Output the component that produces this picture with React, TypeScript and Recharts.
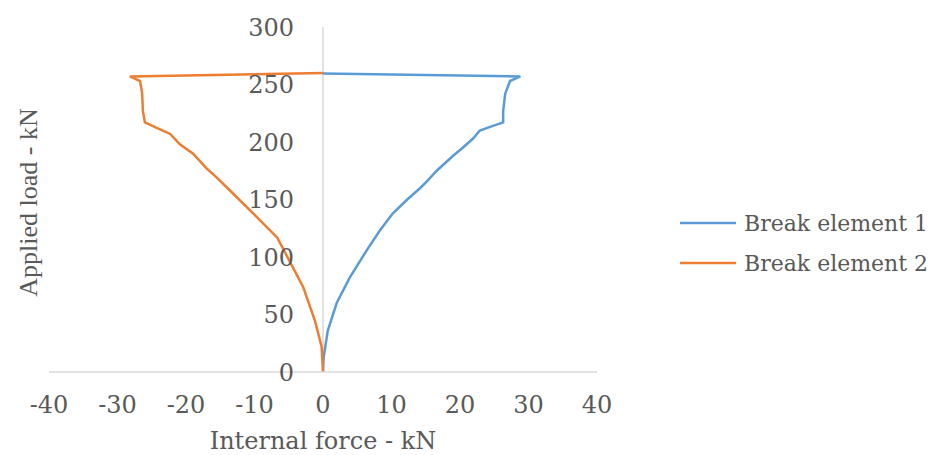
import { LineChart, Line, XAxis, YAxis, ReferenceLine, Legend, Label } from "recharts";

// Break element 1 (blue): internal force vs applied load, in drawing order
const FORCE_1 = [0, 0.1, 0.7, 2.0, 3.9, 6.4, 8.3, 10.2, 12.3, 14.2, 15.2, 16.6, 19.0, 20.4, 21.9, 22.9, 24.8, 26.3, 26.3, 26.6, 27.3, 28.8, 0];
const LOAD_1 = [0, 13, 36, 60, 82, 106, 123, 138, 150, 160, 166, 175, 188, 195, 203, 210, 214, 217, 227, 242, 253, 257, 259.5];

// Break element 2 (orange)
const FORCE_2 = [0, -0.2, -1.2, -2.9, -4.4, -6.7, -10.2, -13.1, -15.5, -17.0, -19.0, -20.9, -22.3, -24.2, -26.0, -26.3, -26.4, -26.7, -28.2, 0];
const LOAD_2 = [0, 22, 45, 74, 91, 117, 138, 155, 169, 177, 190, 198, 207, 212, 217, 227, 242, 253, 257, 260];

const X_TICKS = [-40, -30, -20, -10, 0, 10, 20, 30, 40];
const Y_TICKS = [0, 50, 100, 150, 200, 250, 300];

const SERIES = [
  { name: "Break element 1", color: "#5B9BD5", force: FORCE_1, load: LOAD_1 },
  { name: "Break element 2", color: "#ED7D31", force: FORCE_2, load: LOAD_2 },
];

const W = 945;
const H = 455;
const PLOT_LEFT = 49;
const PLOT_RIGHT = 597;
const PLOT_TOP = 27;
const PLOT_BOTTOM = 372;
const ZERO_X = (PLOT_LEFT + PLOT_RIGHT) / 2;
const TEXT = "#595959";
const AXIS = "#D9D9D9";
const FONT = "'DejaVu Serif', serif";

function XTitle(props: any) {
  const { x, y, width } = props.viewBox;
  return (
    <text x={x + width / 2} y={y + 77} textAnchor='middle' fill={TEXT} fontSize={24} fontFamily={FONT}>
      Internal force - kN
    </text>
  );
}

function YTitle(props: any) {
  const { y, height } = props.viewBox;
  const cx = 28;
  const cy = y + height / 2 + 3;
  return (
    <text
      x={cx}
      y={cy}
      textAnchor='middle'
      dominantBaseline='central'
      transform={`rotate(-90, ${cx}, ${cy})`}
      fill={TEXT}
      fontSize={26}
      fontFamily="'Liberation Serif', serif"
    >
      Applied load - kN
    </text>
  );
}

function LegendBox({ payload }: any) {
  return (
    <div style={{ fontFamily: FONT, fontSize: 22, color: TEXT }}>
      {(payload || []).map((p: any) => (
        <div key={p.value} style={{ display: "flex", alignItems: "center", height: 40 }}>
          <svg width={58} height={10} style={{ marginRight: 6 }}>
            <line x1={0} y1={5} x2={56} y2={5} stroke={p.color} strokeWidth={2.5} />
          </svg>
          <span style={{ whiteSpace: "nowrap" }}>{p.value}</span>
        </div>
      ))}
    </div>
  );
}

export default function App() {
  return (
    <div style={{ position: "absolute", left: 0, top: 0, width: W, height: H, background: "#fff" }}>
      <LineChart
        width={W}
        height={H}
        margin={{ top: PLOT_TOP, right: W - PLOT_RIGHT, left: 0, bottom: 0 }}
        style={{ fontFamily: FONT }}
      >
        <XAxis
          type='number'
          dataKey='force'
          domain={[-40, 40]}
          ticks={X_TICKS}
          allowDataOverflow
          height={H - PLOT_BOTTOM}
          axisLine={{ stroke: AXIS, strokeWidth: 1.5 }}
          tickLine={false}
          tickSize={0}
          tickMargin={24}
          tick={{ fill: TEXT, fontSize: 24, fontFamily: FONT }}
        >
          <Label content={XTitle} />
        </XAxis>
        <YAxis
          type='number'
          dataKey='load'
          domain={[0, 300]}
          ticks={Y_TICKS}
          width={PLOT_LEFT}
          axisLine={false}
          tickLine={false}
          tickSize={0}
          tickMargin={0}
          tick={{ fill: TEXT, fontSize: 24, fontFamily: FONT, dx: ZERO_X - 29 - PLOT_LEFT }}
        >
          <Label content={YTitle} />
        </YAxis>
        <ReferenceLine x={0} stroke={AXIS} strokeWidth={1.5} />
        {SERIES.map((s) => (
          <Line
            key={s.name}
            name={s.name}
            data={s.force.map((force, i) => ({ force, load: s.load[i] }))}
            dataKey='load'
            type='linear'
            stroke={s.color}
            strokeWidth={2.5}
            dot={false}
            activeDot={false}
            isAnimationActive={false}
          />
        ))}
        <Legend
          layout='vertical'
          align='center'
          verticalAlign='middle'
          content={LegendBox}
          wrapperStyle={{ left: 680, top: 203, width: 265 }}
        />
      </LineChart>
    </div>
  );
}
